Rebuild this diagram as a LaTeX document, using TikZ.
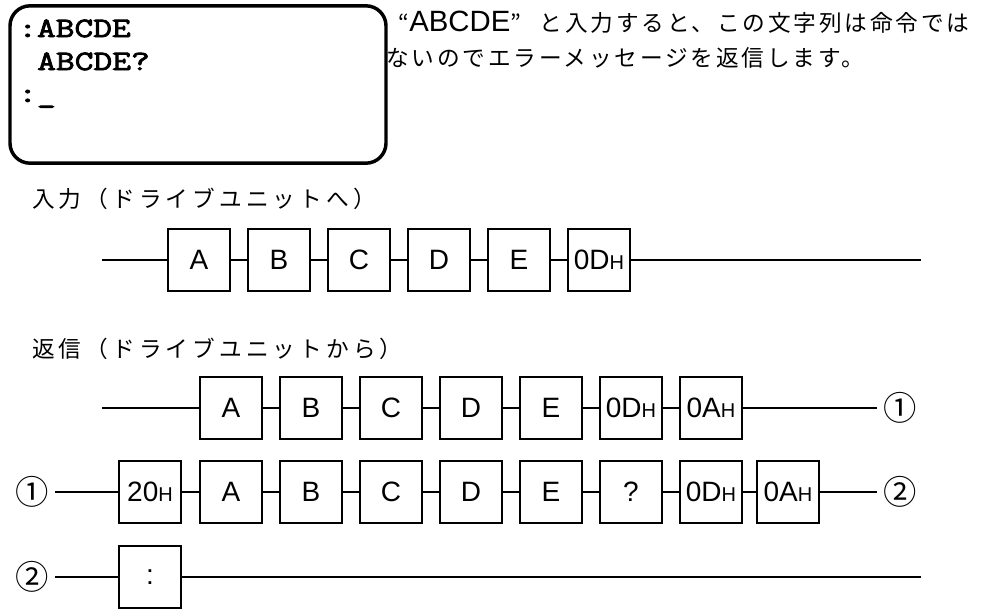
\documentclass[tikz,border=0pt]{standalone}
\usepackage{fontspec}
\setmainfont{Liberation Sans}
\newfontfamily\jpfont[LetterSpace=12.5]{Noto Sans CJK JP}
\newfontfamily\jplblfont[LetterSpace=18]{Noto Sans CJK JP}
\newfontfamily\numfont{Noto Sans CJK JP}
\newfontfamily\scrfont[FakeStretch=1.3, FakeBold=3]{Latin Modern Mono}
\usetikzlibrary{positioning}

\newcommand{\hexh}[1]{#1{\fontsize{15}{15}\selectfont H}}

\tikzset{
  byte/.style={draw, line width=1.8pt, minimum width=46.5pt, minimum height=46.5pt,
    inner sep=0pt, font=\fontsize{21}{21}\selectfont},
  wire/.style={line width=1.8pt},
  circnum/.style={inner sep=4.5pt, font=\numfont\fontsize{25}{25}\selectfont},
  jptxt/.style={anchor=base west, inner sep=0pt, font=\jpfont\fontsize{17}{17}\selectfont},
  jplbl/.style={anchor=base west, inner sep=0pt, font=\jplblfont\fontsize{17}{17}\selectfont},
  scrtxt/.style={anchor=base west, inner sep=0pt, font=\scrfont\fontsize{21}{21}\selectfont},
}

\begin{document}
\begin{tikzpicture}[x=0.75pt, y=-0.75pt, line cap=butt, line join=miter]
  \useasboundingbox (0,0) rectangle (1006,608);

  % Screen
  \node[draw, line width=2.6pt, rounded corners=15pt, minimum width=282pt,
    minimum height=118pt] (screen) at (198,84.5) {};
  \node[scrtxt] (scr1) at (18,37) {:ABCDE};
  \node[scrtxt] (scr2) at (37,70) {ABCDE?};
  \node[scrtxt] (scr3) at (18,102) {:\_};

  % Explanation
  \node[jptxt] (desc1) at (385,31.6) {\hspace{10pt}“{\rmfamily\fontsize{22}{22}\selectfont ABCDE}”\hspace{14pt}と入力すると、この文字列は命令では};
  \node[jptxt] (desc2) at (386,66) {ないのでエラーメッセージを返信します。};

  % Input
  \node[jplbl] (inlbl) at (32,207) {入力（ドライブユニットへ）};
  \coordinate (in0) at (102,260);
  \foreach \x/\t [count=\i] in {199/A, 279/B, 359/C, 439/D, 519/E, 599/{\hexh{0D}}}{
    \node[byte] (in\i) at (\x,260) {\t};
  }
  \coordinate (in7) at (921,260);
  \draw[wire] (in0) -- (in1) -- (in2) -- (in3) -- (in4) -- (in5) -- (in6) -- (in7);

  % Return
  \node[jplbl] (retlbl) at (32,357) {返信（ドライブユニットから）};

  % line 1
  \coordinate (ra0) at (102,408);
  \foreach \x/\t [count=\i] in {231/A, 311/B, 391/C, 471/D, 551/E, 631/{\hexh{0D}}, 711/{\hexh{0A}}}{
    \node[byte] (ra\i) at (\x,408) {\t};
  }
  \node[circnum] (ca1) at (900,408) {①};
  \draw[wire] (ra0) -- (ra1) -- (ra2) -- (ra3) -- (ra4) -- (ra5) -- (ra6) -- (ra7) -- (ca1);

  % line 2
  \node[circnum] (cb1) at (32,492) {①};
  \foreach \x/\t [count=\i] in {150/{\hexh{20}}, 231/A, 311/B, 391/C, 471/D, 551/E, 631/?,
      711/{\hexh{0D}}, 788/{\hexh{0A}}}{
    \node[byte] (rb\i) at (\x,492) {\t};
  }
  \node[circnum] (cb2) at (900,492) {②};
  \draw[wire] (cb1) -- (rb1) -- (rb2) -- (rb3) -- (rb4) -- (rb5) -- (rb6) -- (rb7) -- (rb8) -- (rb9) -- (cb2);

  % line 3
  \node[circnum] (cc2) at (32,577) {②};
  \node[byte] (rc1) at (150,577) {:};
  \coordinate (rc2) at (921,577);
  \draw[wire] (cc2) -- (rc1) -- (rc2);
\end{tikzpicture}
\end{document}
